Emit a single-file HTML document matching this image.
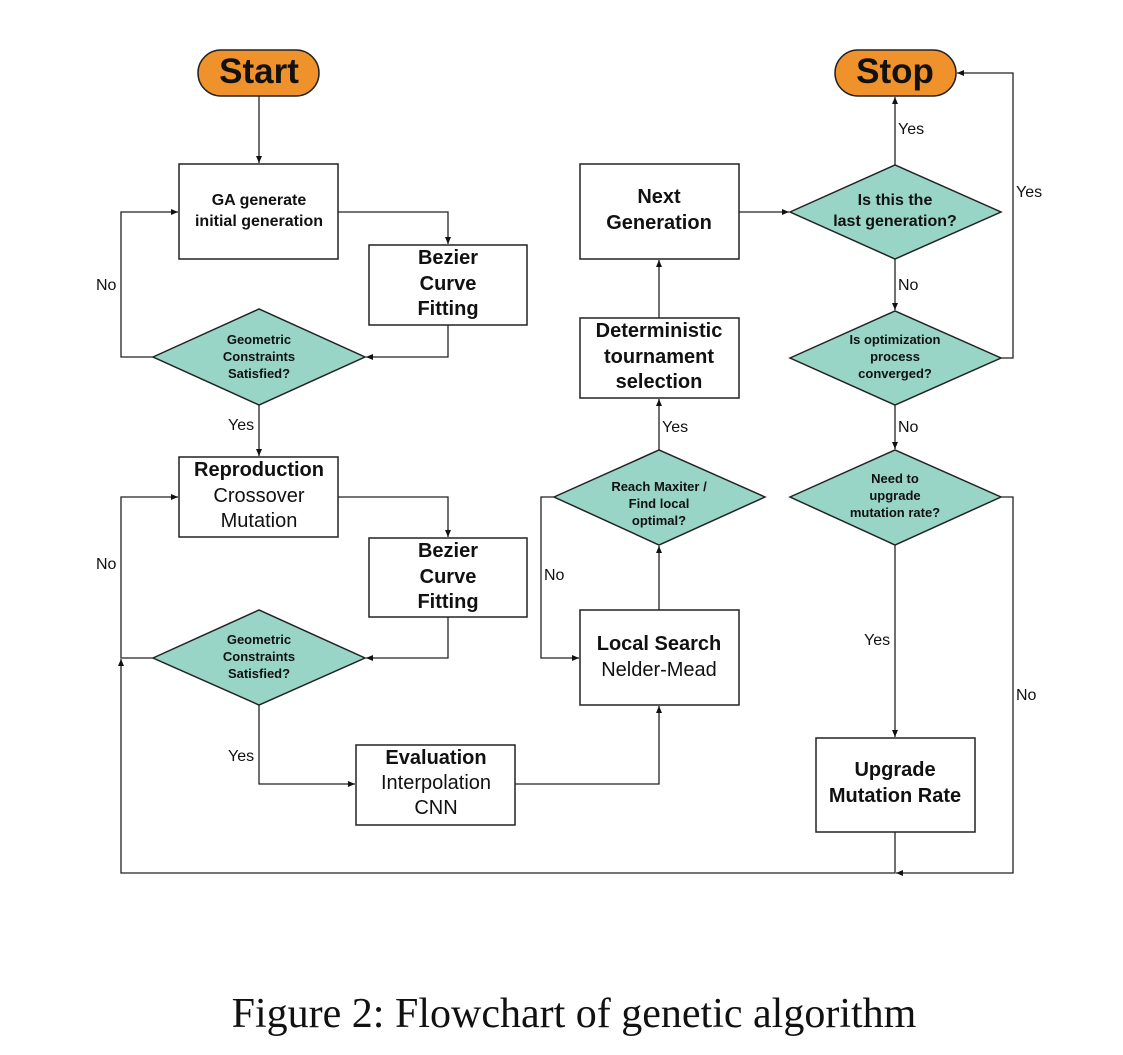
<!DOCTYPE html>
<html><head><meta charset="utf-8"><style>
html,body{margin:0;padding:0;background:#fff;width:1123px;height:1055px;overflow:hidden}
svg text{font-family:"Liberation Sans",sans-serif;fill:#111}
.b{font-weight:bold}
</style></head><body>
<svg width="1123" height="1055" viewBox="0 0 1123 1055" xmlns="http://www.w3.org/2000/svg">
<defs><marker id="a" markerWidth="8" markerHeight="8" refX="7" refY="3" orient="auto" markerUnits="userSpaceOnUse"><path d="M0,0 L7,3 L0,6 z" fill="#111"/></marker></defs>
<g fill="none" stroke="#222" stroke-width="1.5">
<rect x="198" y="50" width="121" height="46" rx="23" fill="#F0922B"/>
<rect x="835" y="50" width="121" height="46" rx="23" fill="#F0922B"/>
<rect x="179" y="164" width="159" height="95" fill="#fff"/>
<rect x="369" y="245" width="158" height="80" fill="#fff"/>
<rect x="179" y="457" width="159" height="80" fill="#fff"/>
<rect x="369" y="538" width="158" height="79" fill="#fff"/>
<rect x="356" y="745" width="159" height="80" fill="#fff"/>
<rect x="580" y="610" width="159" height="95" fill="#fff"/>
<rect x="580" y="318" width="159" height="80" fill="#fff"/>
<rect x="580" y="164" width="159" height="95" fill="#fff"/>
<rect x="816" y="738" width="159" height="94" fill="#fff"/>
<g fill="#98D5C7">
<polygon points="153,357 259,309 365,357 259,405"/>
<polygon points="153,658 259,610 365,658 259,705"/>
<polygon points="554,497 659,450 765,497 659,545"/>
<polygon points="790,212 895,165 1001,212 895,259"/>
<polygon points="790,358 895,311 1001,358 895,405"/>
<polygon points="790,497 895,450 1001,497 895,545"/>
</g>
</g>
<g fill="none" stroke="#222" stroke-width="1.3" marker-end="url(#a)">
<path d="M259,96 V163"/>
<path d="M338,212 H448 V244"/>
<path d="M448,325 V357 H366"/>
<path d="M153,357 H121 V212 H178"/>
<path d="M259,405 V456"/>
<path d="M338,497 H448 V537"/>
<path d="M448,617 V658 H366"/>
<path d="M153,658 H121 V497 H178"/>
<path d="M259,705 V784 H355"/>
<path d="M515,784 H659 V706"/>
<path d="M659,610 V546"/>
<path d="M554,497 H541 V658 H579"/>
<path d="M659,450 V399"/>
<path d="M659,318 V260"/>
<path d="M739,212 H789"/>
<path d="M895,165 V97"/>
<path d="M895,259 V310"/>
<path d="M1001,358 H1013 V73 H957"/>
<path d="M895,405 V449"/>
<path d="M895,545 V737"/>
<path d="M1001,497 H1013 V873 H896"/>
<path d="M895,832 V873 H121 V659"/>
</g>
<text x="259" y="83" text-anchor="middle" class="b" font-size="35">Start</text>
<text x="895" y="83" text-anchor="middle" class="b" font-size="35">Stop</text>
<g class="b" font-size="16" text-anchor="middle">
<text x="259" y="205">GA generate</text><text x="259" y="226">initial generation</text>
</g>
<g class="b" font-size="20" text-anchor="middle">
<text x="448" y="264">Bezier</text><text x="448" y="290">Curve</text><text x="448" y="315">Fitting</text>
<text x="448" y="557">Bezier</text><text x="448" y="583">Curve</text><text x="448" y="608">Fitting</text>
<text x="259" y="476">Reproduction</text>
<text x="436" y="764">Evaluation</text>
<text x="659" y="650">Local Search</text>
<text x="659" y="337">Deterministic</text><text x="659" y="363">tournament</text><text x="659" y="388">selection</text>
<text x="659" y="203">Next</text><text x="659" y="229">Generation</text>
<text x="895" y="776">Upgrade</text><text x="895" y="802">Mutation Rate</text>
</g>
<g font-size="20" text-anchor="middle">
<text x="259" y="502">Crossover</text><text x="259" y="527">Mutation</text>
<text x="436" y="789">Interpolation</text><text x="436" y="814">CNN</text>
<text x="659" y="676">Nelder-Mead</text>
</g>
<g class="b" font-size="13" text-anchor="middle">
<text x="259" y="344">Geometric</text><text x="259" y="361">Constraints</text><text x="259" y="378">Satisfied?</text>
<text x="259" y="644">Geometric</text><text x="259" y="661">Constraints</text><text x="259" y="678">Satisfied?</text>
<text x="659" y="491">Reach Maxiter /</text><text x="659" y="508">Find local</text><text x="659" y="525">optimal?</text>
<text x="895" y="344">Is optimization</text><text x="895" y="361">process</text><text x="895" y="378">converged?</text>
<text x="895" y="483">Need to</text><text x="895" y="500">upgrade</text><text x="895" y="517">mutation rate?</text>
</g>
<g class="b" font-size="16" text-anchor="middle">
<text x="895" y="205">Is this the</text><text x="895" y="226">last generation?</text>
</g>
<g font-size="16">
<text x="96" y="290">No</text>
<text x="228" y="430">Yes</text>
<text x="96" y="569">No</text>
<text x="228" y="761">Yes</text>
<text x="544" y="580">No</text>
<text x="662" y="432">Yes</text>
<text x="898" y="134">Yes</text>
<text x="898" y="290">No</text>
<text x="898" y="432">No</text>
<text x="1016" y="197">Yes</text>
<text x="864" y="645">Yes</text>
<text x="1016" y="700">No</text>
</g>
<text x="574" y="1027" text-anchor="middle" font-size="42" style="font-family:'Liberation Serif',serif">Figure 2: Flowchart of genetic algorithm</text>
</svg>
</body></html>
